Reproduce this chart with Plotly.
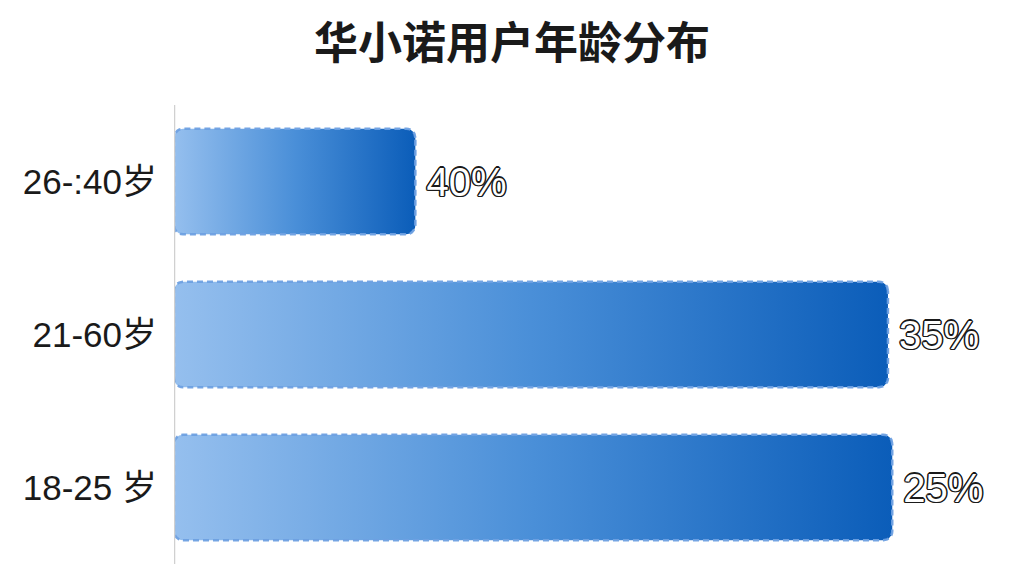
import numpy as np
import plotly.graph_objects as go

categories = ["18-25 岁", "21-60岁", "26-:40岁"]
values = [100.0, 99.4, 33.6]
labels = ["25%", "35%", "40%"]

W, H = 1024, 576
ML, MR, MT, MB = 174, 24, 105, 12
XMAX = 115
BAR_W = 0.69
R_PX = 9
LABEL_DROP_PX = 4

px_x = XMAX / (W - ML - MR)
px_y = 3 / (H - MT - MB)

fig = go.Figure()


def rounded_rect(x0, x1, y0, y1):
    rx, ry = R_PX * px_x, R_PX * px_y
    xs, ys = [], []
    corners = [
        (x1 - rx, y1 - ry, 0, 90),
        (x0 + rx, y1 - ry, 90, 180),
        (x0 + rx, y0 + ry, 180, 270),
        (x1 - rx, y0 + ry, 270, 360),
    ]
    for cx, cy, a0, a1 in corners:
        t = np.radians(np.linspace(a0, a1, 8))
        xs += list(cx + rx * np.cos(t))
        ys += list(cy + ry * np.sin(t))
    xs.append(xs[0])
    ys.append(ys[0])
    return xs, ys


for i, (cat, v) in enumerate(zip(categories, values)):
    xs, ys = rounded_rect(0, v, i - BAR_W / 2, i + BAR_W / 2)
    fig.add_trace(go.Scatter(
        x=xs, y=ys, mode="lines", fill="toself",
        line=dict(color="rgba(110,160,225,0.95)", width=2.5, dash="6px,4px"),
        fillgradient=dict(type="horizontal",
                          colorscale=[[0, "#95bfee"], [0.5, "#4a8fd8"], [1, "#0b5db9"]]),
        hoverinfo="skip", showlegend=False,
    ))

outline = ", ".join(f"{dx}px {dy}px 0 #1a1a1a" for dx, dy in
                    [(1.5, 0), (-1.5, 0), (0, 1.5), (0, -1.5),
                     (1, 1), (-1, -1), (1, -1), (-1, 1)])

fig.add_trace(go.Scatter(
    x=values, y=[i - LABEL_DROP_PX * px_y for i in range(len(categories))],
    mode="text",
    text=[" " + t for t in labels], textposition="middle right",
    textfont=dict(size=40, color="white", family="Liberation Sans, Arial",
                  shadow=outline),
    hoverinfo="skip", showlegend=False,
))

fig.update_layout(
    width=W, height=H,
    margin=dict(l=ML, r=MR, t=MT, b=MB),
    paper_bgcolor="white", plot_bgcolor="white",
    title=dict(text="<b>华小诺用户年龄分布</b>", x=0.5, xanchor="center",
               y=0.925, yanchor="middle",
               font=dict(size=44, color="#1a1a1a", family="Noto Sans CJK SC")),
    xaxis=dict(range=[0, XMAX], showgrid=False, zeroline=False,
               showticklabels=False, showline=False),
    yaxis=dict(range=[-0.5, 2.5], tickmode="array",
               tickvals=list(range(len(categories))), ticktext=categories,
               showgrid=False, zeroline=False, showline=False,
               ticks="", ticklabelstandoff=16,
               tickfont=dict(size=35, color="#1a1a1a",
                             family="Liberation Sans, Noto Sans CJK SC")),
    shapes=[dict(type="line", xref="x", yref="paper", x0=0, x1=0, y0=0, y1=1,
                 line=dict(color="#d0d0d0", width=2.5), layer="above")],
)

fig.write_html("out.html", config={"displayModeBar": False},
               post_script="document.body.style.margin='0';")
